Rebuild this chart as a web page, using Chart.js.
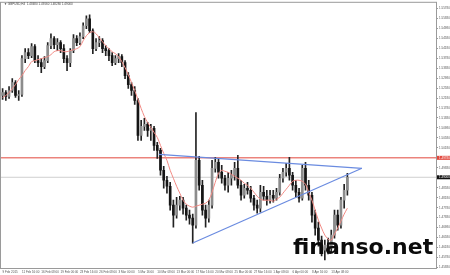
<!DOCTYPE html>
<html>
<head>
<meta charset="utf-8">
<script src="https://cdn.jsdelivr.net/npm/chart.js@4"></script>
<style>
  html, body { margin: 0; padding: 0; background: #fff; }
  #wrap { width: 450px; height: 275px; }
</style>
</head>
<body>
<div id="wrap"><canvas id="priceChart"></canvas></div>
<script>
// GBPUSD candles, [open, high, low, close]
const candles = [
  [1.5228,1.5256,1.5212,1.5240],[1.5240,1.5248,1.5208,1.5224],[1.5224,1.5264,1.5216,1.5248],[1.5248,1.5296,1.5240,1.5280],
  [1.5280,1.5288,1.5220,1.5228],[1.5228,1.5248,1.5208,1.5232],[1.5232,1.5388,1.5224,1.5376],[1.5376,1.5416,1.5360,1.5400],
  [1.5400,1.5416,1.5376,1.5388],[1.5388,1.5436,1.5380,1.5424],[1.5424,1.5432,1.5360,1.5368],[1.5368,1.5388,1.5344,1.5360],
  [1.5360,1.5376,1.5320,1.5344],[1.5344,1.5384,1.5336,1.5368],[1.5368,1.5440,1.5360,1.5428],[1.5428,1.5476,1.5416,1.5456],
  [1.5456,1.5464,1.5416,1.5432],[1.5432,1.5456,1.5408,1.5440],[1.5440,1.5448,1.5400,1.5416],[1.5416,1.5432,1.5360,1.5376],
  [1.5376,1.5388,1.5328,1.5360],[1.5360,1.5416,1.5344,1.5408],[1.5408,1.5472,1.5400,1.5456],[1.5456,1.5468,1.5428,1.5440],
  [1.5440,1.5480,1.5432,1.5464],[1.5464,1.5520,1.5456,1.5508],[1.5508,1.5548,1.5496,1.5536],[1.5536,1.5552,1.5480,1.5488],
  [1.5488,1.5496,1.5396,1.5416],[1.5416,1.5456,1.5408,1.5440],[1.5440,1.5464,1.5424,1.5448],[1.5448,1.5456,1.5400,1.5416],
  [1.5416,1.5428,1.5388,1.5408],[1.5408,1.5416,1.5368,1.5388],[1.5388,1.5400,1.5348,1.5360],[1.5360,1.5388,1.5352,1.5376],
  [1.5376,1.5396,1.5360,1.5384],[1.5384,1.5392,1.5344,1.5360],[1.5360,1.5368,1.5296,1.5308],[1.5308,1.5320,1.5256,1.5272],
  [1.5272,1.5280,1.5228,1.5248],[1.5248,1.5264,1.5192,1.5208],[1.5208,1.5216,1.5048,1.5068],[1.5068,1.5128,1.5048,1.5104],
  [1.5104,1.5136,1.5088,1.5112],[1.5112,1.5120,1.5064,1.5088],[1.5088,1.5112,1.5048,1.5096],[1.5096,1.5104,1.5008,1.5028],
  [1.5028,1.5040,1.4976,1.5008],[1.5008,1.5016,1.4908,1.4928],[1.4928,1.4944,1.4856,1.4888],[1.4888,1.4904,1.4836,1.4864],
  [1.4864,1.4880,1.4768,1.4788],[1.4788,1.4808,1.4700,1.4748],[1.4748,1.4820,1.4736,1.4788],[1.4788,1.4824,1.4768,1.4808],
  [1.4808,1.4820,1.4752,1.4776],[1.4776,1.4788,1.4728,1.4748],[1.4748,1.4768,1.4712,1.4736],[1.4736,1.4752,1.4636,1.4708],
  [1.4708,1.5160,1.4696,1.4968],[1.4968,1.4984,1.4848,1.4868],[1.4868,1.4888,1.4748,1.4768],[1.4768,1.4788,1.4700,1.4736],
  [1.4736,1.4808,1.4720,1.4788],[1.4788,1.4968,1.4776,1.4936],[1.4936,1.4980,1.4920,1.4960],[1.4960,1.4976,1.4896,1.4920],
  [1.4920,1.4948,1.4876,1.4896],[1.4896,1.4908,1.4848,1.4868],[1.4868,1.4920,1.4840,1.4896],[1.4896,1.4928,1.4868,1.4908],
  [1.4908,1.4960,1.4888,1.4936],[1.4936,1.4988,1.4856,1.4868],[1.4868,1.4888,1.4808,1.4828],[1.4828,1.4872,1.4816,1.4856],
  [1.4856,1.4880,1.4832,1.4848],[1.4848,1.4864,1.4800,1.4816],[1.4816,1.4828,1.4768,1.4788],[1.4788,1.4808,1.4756,1.4776],
  [1.4776,1.4868,1.4760,1.4840],[1.4840,1.4864,1.4808,1.4824],[1.4824,1.4848,1.4788,1.4808],[1.4808,1.4848,1.4796,1.4828],
  [1.4828,1.4848,1.4800,1.4816],[1.4816,1.4856,1.4808,1.4840],[1.4840,1.4912,1.4828,1.4896],[1.4896,1.4936,1.4880,1.4920],
  [1.4920,1.4956,1.4904,1.4936],[1.4936,1.4980,1.4888,1.4908],[1.4908,1.4920,1.4848,1.4868],[1.4868,1.4888,1.4820,1.4840],
  [1.4840,1.4856,1.4800,1.4816],[1.4816,1.4948,1.4808,1.4936],[1.4936,1.4960,1.4848,1.4868],[1.4868,1.4888,1.4808,1.4828],
  [1.4828,1.4840,1.4720,1.4748],[1.4748,1.4768,1.4668,1.4696],[1.4696,1.4720,1.4624,1.4648],[1.4648,1.4664,1.4584,1.4608],
  [1.4608,1.4648,1.4568,1.4628],[1.4628,1.4656,1.4592,1.4616],[1.4616,1.4688,1.4600,1.4668],[1.4668,1.4768,1.4656,1.4748],
  [1.4748,1.4768,1.4688,1.4708],[1.4708,1.4820,1.4696,1.4808],[1.4808,1.4872,1.4776,1.4848],[1.4848,1.4916,1.4828,1.4900]
];

// red moving average, one value per candle
const maLine = [
  1.5220,1.5228,1.5240,1.5256,1.5272,1.5292,1.5308,1.5328,1.5344,1.5364,1.5368,1.5372,
  1.5376,1.5380,1.5384,1.5392,1.5404,1.5408,1.5408,1.5404,1.5404,1.5408,1.5412,1.5416,
  1.5424,1.5448,1.5468,1.5480,1.5484,1.5476,1.5460,1.5444,1.5428,1.5416,1.5404,1.5396,
  1.5384,1.5364,1.5340,1.5312,1.5280,1.5248,1.5212,1.5176,1.5144,1.5120,1.5100,1.5080,
  1.5060,1.5028,1.4996,1.4968,1.4928,1.4896,1.4864,1.4836,1.4808,1.4792,1.4784,1.4780,
  1.4784,1.4788,1.4792,1.4796,1.4808,1.4840,1.4880,1.4916,1.4928,1.4924,1.4920,1.4912,
  1.4904,1.4896,1.4888,1.4876,1.4868,1.4856,1.4840,1.4824,1.4812,1.4808,1.4808,1.4808,
  1.4804,1.4812,1.4820,1.4836,1.4852,1.4868,1.4884,1.4888,1.4888,1.4884,1.4872,1.4840,
  1.4808,1.4768,1.4728,1.4696,1.4668,1.4652,1.4648,1.4672,1.4696,1.4724,1.4752,1.4776
];

const xTickLabels = [
  '9 Feb 2015', '11 Feb 16:00', '16 Feb 08:00', '19 Feb 00:00', '23 Feb 16:00', '26 Feb 08:00',
  '3 Mar 00:00', '5 Mar 16:00', '10 Mar 08:00', '13 Mar 00:00', '17 Mar 16:00', '20 Mar 08:00',
  '25 Mar 00:00', '27 Mar 16:00', '1 Apr 08:00', '6 Apr 00:00', '8 Apr 16:00', '13 Apr 08:00'
];

const yTicks = [
  1.4538, 1.4578, 1.4618, 1.4658, 1.4698, 1.4738, 1.4778, 1.4818, 1.4858, 1.4898,
  1.4938, 1.4978, 1.5018, 1.5058, 1.5098, 1.5138, 1.5178, 1.5218, 1.5258, 1.5298,
  1.5338, 1.5378, 1.5418, 1.5458, 1.5498, 1.5538, 1.5578
];

// triangle trend lines: [slot index, price]
const upperTrend = [[48.5, 1.4992], [111.5, 1.4936]];
const lowerTrend = [[59, 1.4636], [111.5, 1.4936]];
const resistanceLevel = 1.4978;
const lastPrice = 1.4900;

const totalSlots = 135;
const labelStep = 6;
const symbolTitle = 'GBPUSD,H4  1.48480 1.49160 1.48280 1.49000';

const slotLabels = [];
for (let i = 0; i < totalSlots; i++) {
    slotLabels.push(i % labelStep === 0 && xTickLabels[i / labelStep] ? xTickLabels[i / labelStep] : '');
}

const wickData = candles.map(c => [c[2], c[1]]);
const bodyData = candles.map(c => [c[0], c[3]]);
const bodyColors = candles.map(c => c[3] >= c[0] ? '#8c8c8c' : '#151515');

const toPoints = arr => arr.map(p => ({ x: p[0], y: p[1] }));
const span = [-0.5, totalSlots - 0.5];

const overlayPlugin = {
    id: 'overlay',
    afterDraw(chart) {
        const { ctx, chartArea, scales } = chart;
        ctx.save();
        // frame
        ctx.strokeStyle = '#9a9a9a';
        ctx.lineWidth = 1;
        ctx.strokeRect(chartArea.left - 0.5, chartArea.top - 0.5,
            chartArea.right - chartArea.left + 1, chartArea.bottom - chartArea.top + 1);

        // symbol line
        ctx.fillStyle = '#444';
        ctx.font = '3px "Liberation Sans"';
        ctx.textBaseline = 'middle';
        ctx.fillText('\u25BC ' + symbolTitle, 4, 4.5);

        // price tags on the right axis
        const tag = (price, bg) => {
            const y = scales.y.getPixelForValue(price);
            ctx.fillStyle = bg;
            ctx.fillRect(chartArea.right + 1, y - 2, 13, 4);
            ctx.fillStyle = '#fff';
            ctx.font = '3px "Liberation Sans"';
            ctx.fillText(price.toFixed(5), chartArea.right + 3, y);
        };
        tag(resistanceLevel, '#e2463c');
        tag(lastPrice, '#111');

        // watermark
        ctx.fillStyle = '#0b0b0b';
        ctx.font = 'bold 22px "DejaVu Sans"';
        ctx.textBaseline = 'alphabetic';
        ctx.fillText('finanso.net', 293, 254);
        ctx.restore();
    }
};

const ctx = document.getElementById('priceChart').getContext('2d');
const chart = new Chart(ctx, {
    type: 'bar',
    data: {
        labels: slotLabels,
        datasets: [
            {
                type: 'line',
                data: toPoints([[span[0], lastPrice], [span[1], lastPrice]]),
                xAxisID: 'x2',
                borderColor: '#cfcfcf',
                borderWidth: 1,
                pointRadius: 0,
                order: 5
            },
            {
                type: 'line',
                data: toPoints([[span[0], resistanceLevel], [span[1], resistanceLevel]]),
                xAxisID: 'x2',
                borderColor: '#e2463c',
                borderWidth: 1,
                pointRadius: 0,
                order: 4
            },
            {
                data: wickData,
                backgroundColor: '#222',
                barThickness: 1,
                grouped: false,
                order: 3
            },
            {
                data: bodyData,
                backgroundColor: bodyColors,
                barThickness: 2,
                minBarLength: 1,
                grouped: false,
                order: 2
            },
            {
                type: 'line',
                data: maLine,
                borderColor: '#f28a84',
                borderWidth: 1,
                pointRadius: 0,
                tension: 0.3,
                order: 1
            },
            {
                type: 'line',
                data: toPoints(upperTrend),
                xAxisID: 'x2',
                borderColor: '#6a8be0',
                borderWidth: 1.2,
                pointRadius: 0,
                order: 0
            },
            {
                type: 'line',
                data: toPoints(lowerTrend),
                xAxisID: 'x2',
                borderColor: '#6a8be0',
                borderWidth: 1.2,
                pointRadius: 0,
                order: 0
            }
        ]
    },
    options: {
        responsive: true,
        maintainAspectRatio: false,
        animation: false,
        layout: { padding: { left: 1, top: 2 } },
        plugins: { legend: { display: false }, tooltip: { enabled: false } },
        scales: {
            x: {
                grid: { display: true, drawOnChartArea: false, drawTicks: true, tickLength: 1, color: '#9a9a9a' },
                border: { color: '#9a9a9a' },
                ticks: {
                    autoSkip: false,
                    maxRotation: 0,
                    minRotation: 0,
                    align: 'start',
                    padding: 1,
                    color: '#555',
                    font: { size: 3 }
                },
                afterFit: axis => { axis.height = 7; }
            },
            x2: {
                type: 'linear',
                display: false,
                offset: false,
                min: span[0],
                max: span[1]
            },
            y: {
                position: 'right',
                min: 1.4536,
                max: 1.5600,
                grid: { display: true, drawOnChartArea: false, drawTicks: true, tickLength: 2, color: '#9a9a9a' },
                border: { color: '#9a9a9a' },
                afterBuildTicks: axis => { axis.ticks = yTicks.map(v => ({ value: v })); },
                ticks: {
                    padding: 1,
                    color: '#555',
                    font: { size: 3 },
                    callback: v => v.toFixed(5)
                },
                afterFit: axis => { axis.width = 14; }
            }
        }
    },
    plugins: [overlayPlugin]
});
</script>
</body>
</html>
